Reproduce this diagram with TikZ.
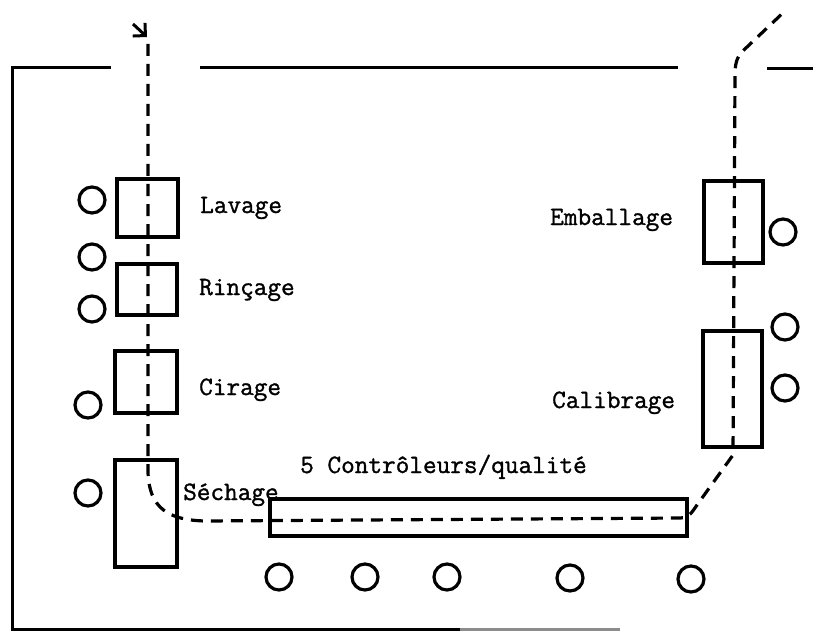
\documentclass[tikz,border=0pt]{standalone}
\usepackage{fontspec}
\newfontfamily\typewr[FakeBold=1.2]{Latin Modern Mono}
\usetikzlibrary{arrows.meta}
\begin{document}
\begin{tikzpicture}[x=1pt,y=-1pt,
  wall/.style={line width=3pt},
  stationbox/.style={draw,line width=3.2pt,inner sep=0pt,outer sep=0pt},
  worker/.style={draw,circle,line width=3.2pt,minimum size=26pt,inner sep=0pt},
  flow/.style={line width=3.2pt,dash pattern=on 12pt off 8pt},
  lbl/.style={anchor=base west,inner sep=0pt,font=\fontsize{26.5}{30}\selectfont\typewr}]
\useasboundingbox (0,0) rectangle (813,631);
% walls
\draw[wall] (111,68) -- (12,68) -- (12,629) -- (460,629);
\draw[wall,black!45] (460,629) -- (620,629);
\draw[wall] (200,68) -- (678,68);
\draw[wall] (767,69) -- (813,69);
% stations
\node[stationbox,minimum width=61pt,minimum height=58pt] (lavage) at (147.5,208) {};
\node[stationbox,minimum width=60pt,minimum height=51pt] (rincage) at (147,289.5) {};
\node[stationbox,minimum width=62pt,minimum height=62pt] (cirage) at (146,382) {};
\node[stationbox,minimum width=62pt,minimum height=107pt] (sechage) at (146,513.5) {};
\node[stationbox,minimum width=417pt,minimum height=37pt] (controle) at (478.5,517.5) {};
\node[stationbox,minimum width=59pt,minimum height=82pt] (emballage) at (733.5,222) {};
\node[stationbox,minimum width=59pt,minimum height=116pt] (calibrage) at (732.5,389) {};
% labels
\node[lbl] (tlav) at (200,213) {Lavage};
\node[lbl] (trin) at (199,295) {Rinçage};
\node[lbl] (tcir) at (199,395) {Cirage};
\node[lbl] (tsec) at (183,500) {Séchage};
\node[lbl] (tcon) at (300,473) {5 Contrôleurs/qualité};
\node[lbl] (temb) at (550,225) {Emballage};
\node[lbl] (tcal) at (552,408) {Calibrage};
% workers
\node[worker] (w1) at (92,200) {};
\node[worker] (w2) at (92,257) {};
\node[worker] (w3) at (92,309) {};
\node[worker] (w4) at (88,405) {};
\node[worker] (w5) at (88,493) {};
\node[worker] (w6) at (279,577) {};
\node[worker] (w7) at (365,577) {};
\node[worker] (w8) at (447,577) {};
\node[worker] (w9) at (570,578) {};
\node[worker] (w10) at (691,579) {};
\node[worker] (w11) at (783,232) {};
\node[worker] (w12) at (785,327) {};
\node[worker] (w13) at (785,388) {};
% flow path
\coordinate (fin) at (148,44);
\coordinate (fout) at (786,10);
\draw[line width=3pt,-{Straight Barb[length=9pt,width=18pt]}] (133,24) -- (147,37);
\draw[flow] (fin) -- (148,472) .. controls (149,508) and (168,520) .. (205,521)
  -- (680,518) .. controls (689,518) and (692,512) .. (697,505)
  -- (733,455) -- (735,75) .. controls (735,60) and (738,55) .. (747,47) -- (fout);
\end{tikzpicture}
\end{document}
